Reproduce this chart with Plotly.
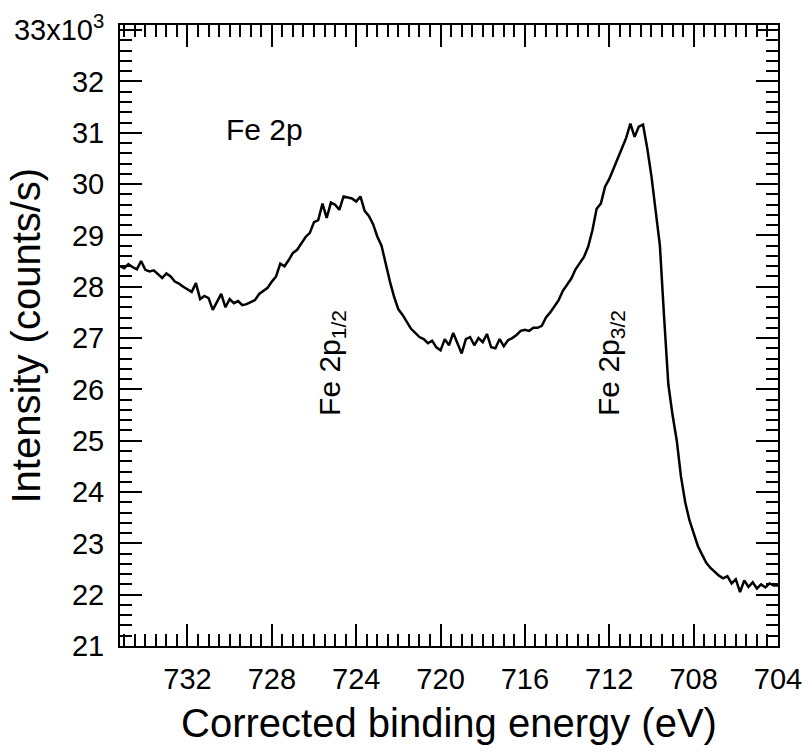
import numpy as np
import plotly.graph_objects as go

# Binding energy grid (eV), 0.2 eV steps from 735.2 down to 704.0
energy = [round(735.2 - 0.2 * i, 1) for i in range(157)]

# Intensity (x10^3 counts/s)
intensity = [
    28.40, 28.36, 28.44, 28.38, 28.34, 28.50, 28.33, 28.30, 28.32, 28.24,   # 735.2 - 733.4
    28.17, 28.26, 28.20, 28.10, 28.06, 28.00, 27.95, 27.90, 28.07, 27.76,   # 733.2 - 731.4
    27.82, 27.78, 27.55, 27.72, 27.86, 27.60, 27.76, 27.68, 27.72, 27.64,   # 731.2 - 729.4
    27.66, 27.70, 27.74, 27.86, 27.92, 27.98, 28.10, 28.20, 28.45, 28.40,   # 729.2 - 727.4
    28.52, 28.66, 28.72, 28.85, 28.97, 29.05, 29.26, 29.30, 29.62, 29.34,   # 727.2 - 725.4
    29.64, 29.60, 29.50, 29.76, 29.74, 29.72, 29.66, 29.76, 29.48, 29.38,   # 725.2 - 723.4
    29.22, 28.98, 28.80, 28.44, 28.10, 27.80, 27.56, 27.45, 27.30, 27.18,   # 723.2 - 721.4
    27.10, 27.02, 26.98, 26.90, 26.95, 26.82, 26.76, 26.98, 26.86, 27.10,   # 721.2 - 719.4
    26.90, 26.70, 26.98, 27.02, 26.86, 27.00, 26.92, 27.08, 26.82, 26.80,   # 719.2 - 717.4
    26.98, 26.84, 26.96, 27.00, 27.06, 27.14, 27.16, 27.14, 27.20, 27.20,   # 717.2 - 715.4
    27.24, 27.40, 27.50, 27.62, 27.74, 27.92, 28.04, 28.16, 28.34, 28.46,   # 715.2 - 713.4
    28.58, 28.78, 29.10, 29.52, 29.62, 29.95, 30.10, 30.30, 30.52, 30.70,   # 713.2 - 711.4
    30.90, 31.18, 30.92, 31.12, 31.16, 30.70, 30.15, 29.50, 28.80, 27.40,   # 711.2 - 709.4
    26.10, 25.50, 25.00, 24.30, 23.80, 23.45, 23.20, 22.95, 22.78, 22.62,   # 709.2 - 707.4
    22.52, 22.44, 22.37, 22.32, 22.36, 22.22, 22.30, 22.05, 22.28, 22.15,   # 707.2 - 705.4
    22.24, 22.12, 22.20, 22.14, 22.22, 22.18, 22.18,                        # 705.2 - 704.0
]

x_ticks = [732, 728, 724, 720, 716, 712, 708, 704]
y_ticks = [21, 22, 23, 24, 25, 26, 27, 28, 29, 30, 31, 32, 33]
y_ticktext = [str(v) for v in y_ticks[:-1]] + ["33x10<sup>3</sup>"]

FONT = "Arial, Liberation Sans, sans-serif"

fig = go.Figure()
fig.add_trace(go.Scatter(
    x=energy, y=intensity, mode="lines",
    line=dict(color="black", width=2.5), showlegend=False,
))

axis_common = dict(
    showline=True, linecolor="black", linewidth=2, mirror="allticks",
    ticks="inside", ticklen=22, tickwidth=2, tickcolor="black",
    showgrid=False, zeroline=False, automargin=False,
    tickfont=dict(family=FONT, size=29, color="black"),
)

fig.update_xaxes(
    range=[735.2, 704], tickvals=x_ticks,
    minor=dict(dtick=0.5, tick0=704, ticks="inside", ticklen=12, tickwidth=2, tickcolor="black", showgrid=False),
    ticklabelstandoff=6,
    title=dict(text="Corrected binding energy (eV)", font=dict(family=FONT, size=40, color="black"), standoff=15),
    **axis_common,
)
fig.update_yaxes(
    range=[21, 33.1], tickvals=y_ticks, ticktext=y_ticktext,
    minor=dict(dtick=0.2, tick0=21, ticks="inside", ticklen=12, tickwidth=2, tickcolor="black", showgrid=False),
    ticklabelstandoff=8,
    **axis_common,
)

fig.add_annotation(
    text="Intensity (counts/s)", xref="paper", yref="paper", x=0, y=0.5,
    xshift=-95, xanchor="center", yanchor="middle", textangle=-90, showarrow=False,
    font=dict(family=FONT, size=40, color="black"),
)
fig.add_annotation(
    text="Fe 2p", x=728.37, y=31.07, xanchor="center", yanchor="middle", showarrow=False,
    font=dict(family=FONT, size=30, color="black"),
)
fig.add_annotation(
    text="Fe 2p<sub>1/2</sub>", x=725.18, y=25.45, xanchor="center", yanchor="bottom",
    textangle=-90, showarrow=False, font=dict(family=FONT, size=30, color="black"),
)
fig.add_annotation(
    text="Fe 2p<sub>3/2</sub>", x=711.95, y=25.45, xanchor="center", yanchor="bottom",
    textangle=-90, showarrow=False, font=dict(family=FONT, size=30, color="black"),
)

fig.update_layout(
    width=803, height=754,
    margin=dict(l=120, r=25, t=25, b=108, autoexpand=False),
    plot_bgcolor="white", paper_bgcolor="white",
    font=dict(family=FONT, color="black"),
)

fig.write_html(
    "out.html",
    config={"displayModeBar": False},
    post_script="document.body.style.margin='0px';",
)
